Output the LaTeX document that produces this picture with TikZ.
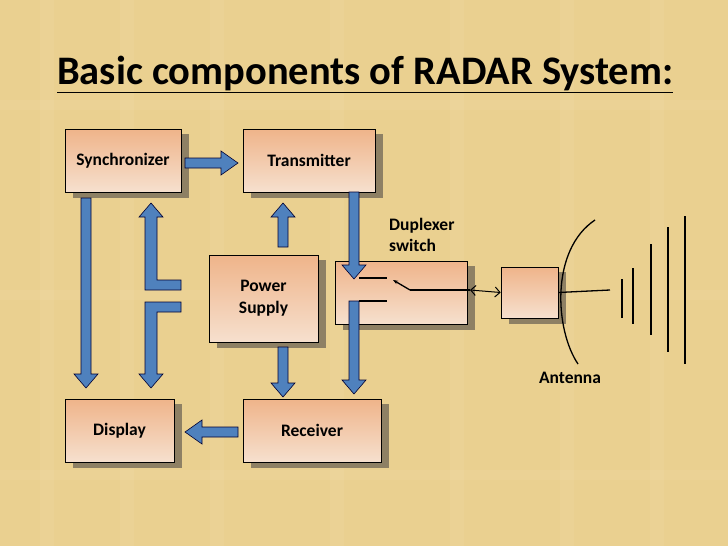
\documentclass[tikz,border=0pt]{standalone}
\usepackage{fontspec}
\setmainfont{Carlito}
\usetikzlibrary{arrows.meta}
\definecolor{bg}{HTML}{EAD090}
\definecolor{btop}{HTML}{EFB48A}
\definecolor{bbot}{HTML}{F6E0CE}
\definecolor{shad}{HTML}{8E8064}
\definecolor{ablue}{HTML}{4F81BD}
\begin{document}
\begin{tikzpicture}[x=1pt,y=-1pt,
  blk/.style={draw=black,line width=0.6pt,top color=btop,bottom color=bbot,inner sep=0pt,font=\bfseries\fontsize{17.5}{22}\selectfont,align=center},
  barrow/.style={fill=ablue,draw=black!80!blue,line width=0.6pt},
  thin/.style={line width=1.3pt}]
\useasboundingbox (0,0) rectangle (728,546);
\fill[bg] (0,0) rectangle (728,546);
\foreach \x in {40,120,210,330,450,560,650} \fill[white,opacity=0.05] (\x,0) rectangle ++(14,546);
\foreach \y in {100,290,470} \fill[white,opacity=0.05] (0,\y) rectangle ++(728,10);
\node[anchor=base west,inner sep=0pt,font=\bfseries\fontsize{40.5}{44}\selectfont] (title) at (57,84) {\underline{Basic components of RADAR System:}};
% shadows
\foreach \a/\b/\c/\d in {65/129/181/192,243/129/375/192,209/255/318/342,335/261/467/324,501/267/558/318,65/399/174/462,243/399/381/462}
  \fill[shad] (\a+8,\b+5) rectangle (\c+8,\d+6);
\node[blk,minimum width=116pt,minimum height=63pt] (sync) at (123,160.5) {Synchronizer};
\node[blk,minimum width=132pt,minimum height=63pt] (tx) at (309,160.5) {Transmitter};
\node[blk,minimum width=109pt,minimum height=87pt] (ps) at (263.5,298.5) {Power\\Supply};
\node[blk,minimum width=132pt,minimum height=63pt] (dup) at (401,292.5) {};
\node[blk,minimum width=57pt,minimum height=51pt] (ant) at (529.5,292.5) {};
\node[blk,minimum width=109pt,minimum height=63pt] (disp) at (119.5,430.5) {Display};
\node[blk,minimum width=138pt,minimum height=63pt] (rx) at (312,430.5) {Receiver};
% block arrows
\newcommand{\vdn}[3]{\draw[barrow] (#1-5,#2) -- (#1+5,#2) -- (#1+5,#3-14) -- (#1+12,#3-14) -- (#1,#3) -- (#1-12,#3-14) -- (#1-5,#3-14) -- cycle;}
\newcommand{\vup}[3]{\draw[barrow] (#1-5,#2) -- (#1+5,#2) -- (#1+5,#3+14) -- (#1+12,#3+14) -- (#1,#3) -- (#1-12,#3+14) -- (#1-5,#3+14) -- cycle;}
\draw[barrow] (185,158) -- (221,158) -- (221,151) -- (238,163) -- (221,175) -- (221,168) -- (185,168) -- cycle;
\draw[barrow] (238,427) -- (202,427) -- (202,420) -- (185,432) -- (202,444) -- (202,437) -- (238,437) -- cycle;
\vdn{86}{198}{388}
\vup{283}{247}{203}
\vdn{283}{347}{397}
\vdn{354}{192}{279}
\vdn{354}{301}{394}
\draw[barrow] (145,290) -- (145,217) -- (139,217) -- (151,203) -- (163,217) -- (157,217) -- (157,280) -- (181,280) -- (181,290) -- cycle;
\draw[barrow] (145,302) -- (181,302) -- (181,312) -- (157,312) -- (157,374) -- (163,374) -- (151,388) -- (139,374) -- (145,374) -- cycle;
% duplexer internals
\draw[thin] (359,278) -- (387,278);
\draw[thin] (359,301) -- (387,301);
\draw[thin,-{Stealth[length=5pt]}] (410,290) -- (393,280);
\draw[thin] (410,290) -- (470,290);
\draw[line width=1pt,{Straight Barb[length=5pt]}-{Straight Barb[length=5pt]}] (470,290) -- (ant.west);
% antenna
\draw[line width=1.3pt] (595,220) .. controls (550,250) and (555,330) .. (578,364);
\draw[line width=1.3pt] (ant.east) -- (610,290);
\foreach \x/\a/\b in {622/279/318,633/268/324,651/244/335,668/227/352,685/216/364} \draw[line width=1.3pt] (\x,\a) -- (\x,\b);
\node[font=\bfseries\fontsize{17.5}{22}\selectfont,anchor=north,inner sep=0pt] (antl) at (570,372) {Antenna};
\node[font=\bfseries\fontsize{17.5}{21}\selectfont,anchor=north west,align=left,inner sep=0pt] (dupl) at (389,218) {Duplexer\\switch};
\end{tikzpicture}
\end{document}
